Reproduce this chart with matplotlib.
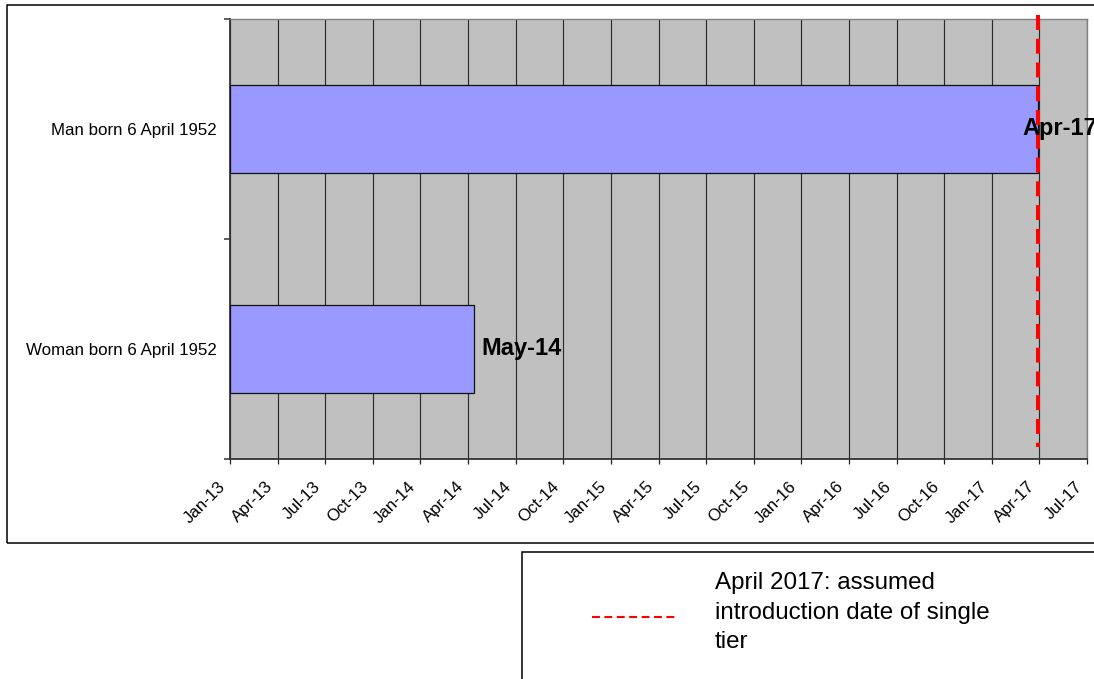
import matplotlib
matplotlib.use("Agg")
import matplotlib.pyplot as plt
import matplotlib.dates as mdates
import matplotlib.transforms as mtransforms
from matplotlib.lines import Line2D
from matplotlib.patches import Rectangle
import numpy as np

plt.rcParams["font.family"] = ["Liberation Sans", "DejaVu Sans"]

# Categories (bottom to top) and the date each bar runs to
categories = ["Woman born 6 April 1952", "Man born 6 April 1952"]
end_dates = ["2014-05-06", "2017-04-06"]

# Date axis: starts at axis_start, one tick every tick_step days
axis_start = "2013-01-30"
tick_step = 90
tick_labels = ["Jan-13", "Apr-13", "Jul-13", "Oct-13", "Jan-14", "Apr-14",
               "Jul-14", "Oct-14", "Jan-15", "Apr-15", "Jul-15", "Oct-15",
               "Jan-16", "Apr-16", "Jul-16", "Oct-16", "Jan-17", "Apr-17",
               "Jul-17"]

# Reference line: assumed introduction of the single tier
single_tier_date = "2017-04-06"
single_tier_label = "April 2017: assumed\nintroduction date of single\ntier"

# Data-label offsets (points) from the end of each bar
label_offsets = [5.5, -10.8]

start_num = mdates.datestr2num(axis_start)
tick_pos = start_num + tick_step * np.arange(len(tick_labels))
end_nums = mdates.datestr2num(end_dates)
line_num = mdates.datestr2num(single_tier_date)

fig = plt.figure(figsize=(10.94, 6.79), dpi=100)
ax = fig.add_axes([230 / 1094, 1 - 459 / 679, 857 / 1094, 440.3 / 679])
ax.set_facecolor("#C0C0C0")

ypos = np.arange(len(categories))
bars = ax.barh(ypos, end_nums - start_num, left=start_num, height=0.4,
               color="#9999FF", edgecolor="#111111", linewidth=0.9, zorder=3)

# Value labels at the bar ends
for y, end, off in zip(ypos, end_nums, label_offsets):
    ax.annotate(mdates.num2date(end).strftime("%b-%y"), xy=(end, y),
                xytext=(off, 0), textcoords="offset points",
                ha="left", va="center", fontsize=17, fontweight="bold",
                color="black", zorder=5, annotation_clip=False)

ax.set_xlim(tick_pos[0], tick_pos[-1])
ax.set_ylim(-0.5, len(categories) - 0.5)

ax.set_xticks(tick_pos)
ax.set_xticklabels(tick_labels, rotation=45, ha="right", va="center",
                   rotation_mode="anchor", fontsize=12.2)
ax.tick_params(axis="x", direction="out", length=3.6, width=0.9,
               color="#222222", pad=14.5)
shift = mtransforms.ScaledTranslation(-7 / 100, 0, fig.dpi_scale_trans)
for lbl in ax.get_xticklabels():
    lbl.set_transform(lbl.get_transform() + shift)
ax.grid(axis="x", color="#2a2a2a", linewidth=0.85, zorder=1)
ax.set_axisbelow(True)

# Category boundaries carry the tick marks; labels sit at the centres
ax.set_yticks(np.arange(-0.5, len(categories), 1.0))
ax.set_yticklabels([])
ax.set_yticks(ypos, minor=True)
ax.set_yticklabels(categories, minor=True, fontsize=12.2)
ax.tick_params(axis="y", which="major", direction="out", length=4.3,
               width=1.1, color="#333333")
ax.tick_params(axis="y", which="minor", length=0, pad=9.6)

for side in ("left", "bottom"):
    ax.spines[side].set_color("#333333")
    ax.spines[side].set_linewidth(1.3)
for side in ("top", "right"):
    ax.spines[side].set_color("#808080")
    ax.spines[side].set_linewidth(1.0)

# Vertical dashed reference line
ax.plot([line_num, line_num], [1.0085, 0.027], transform=ax.get_xaxis_transform(),
        color="#FF0000", linewidth=2.9, dashes=(3.7, 2.2), clip_on=False,
        zorder=4, solid_capstyle="butt", dash_capstyle="butt")

# Chart frame
fig.add_artist(Rectangle((6.5 / 1094, 1 - 542.7 / 679), 1.2, 537.7 / 679,
                         transform=fig.transFigure, fill=False,
                         edgecolor="black", linewidth=1.1))

# Legend box
fig.add_artist(Rectangle((522 / 1094, -0.1), 0.6, 0.1 + 1 - 552 / 679,
                         transform=fig.transFigure, fill=False,
                         edgecolor="black", linewidth=1.1))
ly = 1 - 616.7 / 679
fig.add_artist(Line2D([591.7 / 1094, 675 / 1094], [ly, ly],
                      transform=fig.transFigure, color="#FF0000",
                      linewidth=1.5, dashes=(3.8, 2.15), dash_capstyle="butt"))
fig.text(715 / 1094, 1 - 648.3 / 679, single_tier_label, fontsize=17.4,
         ha="left", va="baseline", linespacing=1.44, color="black")

fig.savefig("out.png", dpi=100)
